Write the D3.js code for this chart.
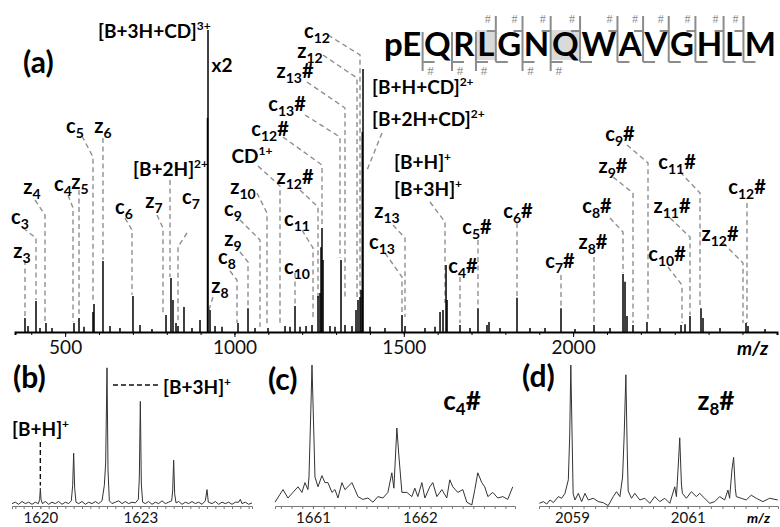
<!DOCTYPE html>
<html>
<head>
<meta charset="utf-8">
<script src="https://cdn.jsdelivr.net/npm/d3@7"></script>
<style>
  body { margin: 0; background: #fff; }
  svg { display: block; font-family: Lato, "Open Sans", sans-serif; }
</style>
</head>
<body>
<svg id="fig" width="780" height="527"></svg>
<script>
// ---- panel (a): centroid spectrum, [m/z, relative intensity]
const spectrumA = [
  [381.5,4.6],[390.4,2.0],[414.0,10.3],[425.8,1.3],[443.5,3.0],[461.3,1.3],[526.2,3.0],[541.0,4.6],
  [555.7,1.7],[582.3,6.6],[585.3,9.3],[611.8,23.5],[632.5,2.0],[662.0,1.3],[700.4,11.9],[721.1,2.3],
  [756.5,1.0],[797.9,5.6],[812.6,17.9],[818.5,10.6],[827.4,3.0],[833.3,2.0],[851.0,8.3],[874.6,1.3],
  [898.3,4.0],[920.4,70.9],[921.9,100],[927.8,7.3],[942.6,2.0],[963.2,1.7],[1010.5,3.0],[1040.0,7.9],
  [1060.7,1.3],[1099.1,1.3],[1149.3,2.0],[1164.0,1.7],[1178.8,8.6],[1193.5,1.7],[1211.3,2.0],[1229.0,2.3],
  [1246.7,11.9],[1252.6,12.9],[1255.6,28.1],[1258.5,34.4],[1261.5,23.8],[1282.1,2.0],[1296.9,1.7],
  [1314.6,23.8],[1326.4,2.3],[1347.1,2.0],[1358.9,7.3],[1364.8,10.6],[1370.7,11.6],[1373.7,13.9],
  [1377.5,66.2],[1379.6,87.1],[1400.3,1.7],[1444.5,1.3],[1494.7,5.6],[1503.6,2.0],[1562.6,1.3],
  [1592.2,1.7],[1607.0,6.6],[1615.8,7.3],[1624.7,22.2],[1627.7,10.6],[1666.0,2.3],[1695.5,1.3],
  [1719.1,7.9],[1745.7,2.3],[1751.6,3.3],[1784.1,1.3],[1834.3,11.3],[1872.7,1.3],[1917.0,1.3],
  [1964.2,7.9],[2005.6,1.0],[2061.7,2.3],[2109.0,1.3],[2147.3,19.2],[2153.2,16.6],[2159.1,5.3],
  [2176.8,2.3],[2218.1,3.3],[2256.6,1.3],[2318.6,2.3],[2330.4,2.6],[2345.1,5.3],[2377.6,7.9],
  [2383.5,4.6],[2433.7,1.3],[2510.5,3.0],[2516.4,2.0],[2566.6,1.0]
];
const aTickLabels = [500, 1000, 1500, 2000];

// ---- panel (a): fragment annotations
const ionLabels = ["c_3","z_3","z_4","c_4","z_5","c_5","z_6","c_6","z_7","[B+2H]^2+","c_7","z_8","c_8","z_9",
  "c_9","z_10","CD^1+","z_12#","c_11","c_10","c_12#","c_13#","z_13#","z_12","c_12","[B+H+CD]^2+",
  "[B+2H+CD]^2+","[B+H]^+","[B+3H]^+","z_13","c_13","c_4#","c_5#","c_6#","c_7#","z_8#","c_8#","z_9#",
  "c_9#","c_11#","z_11#","c_10#","z_12#","c_12#","[B+3H+CD]^3+"];
const ionMz = [414.0,381.5,440.6,523.3,541.0,582.3,611.8,697.5,789.0,809.7,833.3,924.8,1007.5,1040.0,
  1075.4,1096.1,1134.5,1246.7,1232.0,1178.8,1258.5,1311.7,1326.4,1361.9,1370.7,null,
  1391.4,null,1621.7,1503.6,1494.7,1666.0,1719.1,1834.3,1964.2,2061.7,2147.3,2176.8,
  2221.1,2374.7,2345.1,2321.5,2501.6,2513.4,null];
const ionTip = [10.6,5.0,3.0,3.3,5.0,9.6,23.8,12.3,6.3,18.2,3.0,7.3,3.0,7.9,
  1.7,1.7,3.0,10.6,4.0,8.3,35.1,24.5,10.6,10.6,12.3,null,
  53.6,null,9.6,5.0,5.6,3.0,8.3,11.6,8.3,3.0,19.5,3.0,
  4.0,8.3,5.6,3.0,3.0,3.0,null];

// label placement (px): [labelX, labelY, leaderStartX, leaderStartY, bendY]
const ionLayout = [
  [20,218,23,228,238],[22,252,null,260,null],[32,188,35,200,215],[63,185,68,195,208],
  [80,183,null,190,null],[75,127,82,136,157],[103,127,null,138,null],[124,208,125,218,230],
  [154,202,157,215,228],[133,170,null,180,null],[191,198,187,233,247],[220,287,213,297,null],
  [227,258,230,271,280],[233,240,240,252,262],[233,210,240,220,240],[243,188,257,193,213],
  [252,157,258,166,186],[295,178,300,190,207],[297,220,302,230,248],[297,268,null,273,null],
  [270,130,283,137,165],[287,105,305,115,137],[295,72,307,82,108],[310,52,323,55,78],
  [317,32,328,35,55],[372,88,null,null,null],[372,120,382,133,null],[394,163,null,null,null],
  [394,190,430,202,222],[387,212,393,225,238],[382,243,385,253,277],[463,267,null,277,null],
  [477,228,null,240,null],[518,212,null,223,null],[560,262,null,275,null],[593,243,null,257,null],
  [597,207,610,218,232],[613,167,613,177,193],[620,135,627,145,163],[677,163,680,172,193],
  [672,207,670,218,237],[667,255,668,267,285],[720,235,723,243,263],[747,188,null,203,null],
  [98,32,null,null,null]
];

// ---- sequence
const residues = ["pE","Q","R","L","G","N","Q","W","A","V","G","H","L","M"];
const hashTop = [4,5,6,7,8,9,10,11,12,13];
const hashBottom = [1,2,3,5,6];
const shaded = [3, 6];

// ---- zoomed isotope profiles, [m/z, relative intensity]
const bProfile = [
  [1619.15,1],[1619.25,2],[1619.35,0.5],[1619.45,2.5],[1619.55,1],[1619.65,2],[1619.75,0.5],[1619.85,2],
  [1619.94,1],[1619.98,4],[1620.0,12],[1620.02,4],[1620.06,1],[1620.15,2.5],[1620.25,0.5],[1620.35,2],
  [1620.45,1],[1620.55,2.5],[1620.65,0.5],[1620.75,2],[1620.85,1],[1620.93,3],[1620.97,14],[1621.0,37],
  [1621.03,12],[1621.07,2],[1621.15,1],[1621.25,2.5],[1621.35,0.5],[1621.45,2],[1621.55,1],[1621.65,2.5],
  [1621.75,1],[1621.85,3],[1621.92,14],[1621.96,30],[1622.0,98],[1622.03,25],[1622.07,3],[1622.15,1],
  [1622.25,2],[1622.35,3],[1622.45,1],[1622.55,2.5],[1622.65,1],[1622.75,2],[1622.85,1.5],[1622.94,4],
  [1622.97,20],[1623.0,74],[1623.03,15],[1623.07,2],[1623.15,1],[1623.25,2.5],[1623.35,0.5],[1623.45,2],
  [1623.55,1],[1623.65,3],[1623.75,1],[1623.85,2],[1623.94,3],[1623.97,10],[1624.0,32],[1624.03,8],
  [1624.07,1.5],[1624.15,2.5],[1624.25,0.5],[1624.35,2],[1624.45,1],[1624.55,2.5],[1624.65,1],[1624.75,2],
  [1624.85,0.5],[1624.95,3],[1625.0,11],[1625.04,2],[1625.15,1],[1625.25,2.5],[1625.35,0.5],[1625.45,2],
  [1625.55,1],[1625.65,2],[1625.75,0.5],[1625.85,2],[1625.95,2],[1626.0,4],[1626.05,1],[1626.15,2],
  [1626.25,0.5],[1626.35,1.5]
];
const cProfile = [
  [1660.645,2],[1660.720,11],[1660.766,5],[1660.813,9],[1660.860,13],[1660.897,9],[1660.925,16],
  [1660.953,11],[1660.963,20],[1660.981,70],[1660.991,100],[1661.005,60],[1661.019,20],[1661.047,13],
  [1661.084,21],[1661.112,16],[1661.140,16],[1661.178,9],[1661.206,11],[1661.234,5],[1661.271,16],
  [1661.299,11],[1661.327,13],[1661.364,16],[1661.393,11],[1661.421,6],[1661.467,4],[1661.514,5],
  [1661.561,2],[1661.607,6],[1661.654,5],[1661.701,9],[1661.738,23],[1661.757,12],[1661.785,55],
  [1661.804,35],[1661.832,9],[1661.879,9],[1661.925,6],[1661.953,12],[1661.981,6],[1662.019,16],
  [1662.047,5],[1662.093,13],[1662.121,16],[1662.159,6],[1662.206,11],[1662.252,5],[1662.280,18],
  [1662.308,13],[1662.355,9],[1662.402,11],[1662.439,2],[1662.486,0],[1662.514,11],[1662.542,23],
  [1662.579,16],[1662.607,13],[1662.636,6],[1662.682,9],[1662.729,5],[1662.776,6],[1662.822,4],
  [1662.869,13]
];
const dProfile = [
  [2058.436,1.2],[2058.505,2.4],[2058.563,0.7],[2058.621,3.6],[2058.678,1.7],[2058.764,6],[2058.822,4.8],
  [2058.879,8.3],[2058.937,18],[2058.961,50],[2058.98,100],[2059.006,40],[2059.02,8],[2059.052,3.6],
  [2059.109,8.3],[2059.167,2.4],[2059.224,8.3],[2059.282,3.6],[2059.368,4.8],[2059.454,2.4],[2059.540,1.7],
  [2059.626,-0.5],[2059.713,6],[2059.770,9.5],[2059.828,6],[2059.874,20],[2059.902,50],[2059.931,93],
  [2059.954,40],[2059.971,10],[2060.029,4.8],[2060.086,8.3],[2060.172,3.6],[2060.259,4.8],[2060.345,1.2],
  [2060.431,6],[2060.517,2.4],[2060.603,4.8],[2060.690,1.2],[2060.776,13],[2060.805,6],[2060.839,30],
  [2060.862,48],[2060.891,15],[2060.908,8.3],[2060.977,4.8],[2061.063,9.5],[2061.149,6],[2061.207,8.3],
  [2061.293,4.8],[2061.379,1.2],[2061.466,2.4],[2061.552,6],[2061.638,3.6],[2061.695,10.7],[2061.724,4.8],
  [2061.764,25],[2061.793,34],[2061.822,12],[2061.839,6],[2061.925,4.8],[2062.011,3.6],[2062.098,7],
  [2062.184,4.8],[2062.299,2.4],[2062.414,4.8],[2062.557,3.6]
];
const bTickLabels = [1620, 1623];
const cTickLabels = [1661, 1662];
const dTickLabels = [2059, 2061];

const svg = d3.select("#fig");
svg.append("rect").attr("width", 780).attr("height", 527).attr("fill", "#fff");

// rich text: "_n" subscript, "^n+" superscript
function richText(text, str, sub, sup) {
  const parts = str.split(/([_^][0-9]*\+?)/).filter(s => s.length);
  let shift = 0;
  parts.forEach(p => {
    const t = text.append("tspan");
    if (p[0] === "_") {
      t.text(p.slice(1)).attr("font-size", sub).attr("dy", 5 - shift);
      shift = 5;
    } else if (p[0] === "^") {
      t.text(p.slice(1)).attr("font-size", sup).attr("dy", -8 - shift);
      shift = -8;
    } else {
      t.text(p).attr("dy", -shift);
      shift = 0;
    }
  });
}

// ================= panel (a)
const xA = d3.scaleLinear().domain([352, 2602]).range([15, 777]);
const yA = d3.scaleLinear().domain([0, 100]).range([332, 30]);

// dashed leaders
const leaders = svg.append("g")
  .attr("fill", "none")
  .attr("stroke", "#8f8f8f")
  .attr("stroke-width", 1.4)
  .attr("stroke-dasharray", "5,3.5");
ionLayout.forEach((L, i) => {
  if (ionMz[i] === null) return;
  const [lx, ly, sx, sy, by] = L;
  const x = xA(ionMz[i]), yt = yA(ionTip[i]);
  let d;
  if (sx === null) d = `M${x},${sy}V${yt}`;
  else if (by === null) d = `M${sx},${sy}L${x},${yt}`;
  else d = `M${sx},${sy}L${x},${by}V${yt}`;
  leaders.append("path").attr("d", d);
});

// minor ticks + baseline
svg.append("g")
  .attr("transform", `translate(0,${yA(0)})`)
  .call(d3.axisBottom(xA).tickValues(d3.range(400, 2600, 100)).tickSize(3).tickFormat(""))
  .call(g => g.select(".domain").attr("stroke", "#000").attr("stroke-width", 2));
svg.append("g")
  .attr("transform", `translate(0,${yA(0)})`)
  .call(d3.axisBottom(xA).tickValues(aTickLabels).tickSize(5).tickPadding(4).tickFormat(d3.format("d")))
  .call(g => g.select(".domain").remove())
  .call(g => g.attr("font-family", null).attr("font-size", 19))
  .call(g => g.selectAll("text").attr("fill", "#111"));

// peaks
svg.append("g")
  .selectAll("line")
  .data(spectrumA)
  .join("line")
  .attr("x1", d => xA(d[0]))
  .attr("x2", d => xA(d[0]))
  .attr("y1", yA(0))
  .attr("y2", d => yA(d[1]))
  .attr("stroke", "#000")
  .attr("stroke-width", 1.5);

// ion labels
const labG = svg.append("g").attr("font-weight", 700).attr("fill", "#000");
ionLabels.forEach((s, i) => {
  const [lx, ly] = ionLayout[i];
  const bracket = s[0] === "[" || s[0] === "C";
  const t = labG.append("text")
    .attr("x", lx)
    .attr("y", ly + 6)
    .attr("font-size", bracket ? 19 : 20)
    .attr("text-anchor", s[0] === "[" ? "start" : "middle");
  richText(t, s, 14, 12);
});
labG.append("text").attr("x", 222).attr("y", 72).attr("font-size", 19)
  .attr("text-anchor", "middle").text("x2");

svg.append("text").attr("x", 23).attr("y", 73).attr("font-size", 30).attr("font-weight", 700).text("(a)");
svg.append("text").attr("x", 737).attr("y", 355).attr("font-size", 19).attr("font-weight", 700)
  .attr("font-style", "italic").text("m/z");

// ================= sequence
const seqG = svg.append("g");
const letters = seqG.selectAll("text.res")
  .data(residues)
  .join("text")
  .attr("class", "res")
  .attr("y", 56)
  .attr("font-size", 33)
  .attr("font-weight", 700)
  .text(d => d);
const widths = letters.nodes().map(n => n.getComputedTextLength());
const seqLeft = 384, seqRight = 776;
const gap = (seqRight - seqLeft - d3.sum(widths)) / (residues.length - 1);
const lefts = [];
let cursor = seqLeft;
widths.forEach(w => { lefts.push(cursor); cursor += w + gap; });
letters.attr("x", (d, i) => lefts[i]);
const seps = d3.range(1, residues.length).map(i => lefts[i] - gap / 2);

shaded.forEach(r => {
  seqG.insert("rect", "text")
    .attr("x", seps[r - 1])
    .attr("y", 30)
    .attr("width", seps[r] - seps[r - 1])
    .attr("height", 30)
    .attr("fill", "#dadada");
});

const brk = seqG.append("g").attr("stroke", "#8c8c8c").attr("stroke-width", 2).attr("fill", "none");
seps.forEach((x, k) => {
  const n = k + 1;
  const top = hashTop.includes(n), bot = hashBottom.includes(n);
  brk.append("path").attr("d", `M${x},${top ? 16 : 32}V${bot ? 71 : 62}M${x},62h12`);
  if (top) {
    brk.append("path").attr("d", `M${x},31h-9`);
    seqG.append("text").attr("x", x - 8).attr("y", 23).attr("text-anchor", "middle")
      .attr("font-size", 12).attr("fill", "#8c8c8c").attr("font-family", "Liberation Serif").text("#");
  }
  if (bot) {
    seqG.append("text").attr("x", x + 8).attr("y", 75).attr("text-anchor", "middle")
      .attr("font-size", 13).attr("fill", "#8c8c8c").attr("font-family", "Liberation Serif").text("#");
  }
});

// ================= zoomed panels
function zoomPanel(profile, domain, range, labels, minorStep) {
  const x = d3.scaleLinear().domain(domain).range(range);
  const y = d3.scaleLinear().domain([0, 100]).range([505, 365]);
  const minor = d3.range(Math.ceil(domain[0] / minorStep) * minorStep, domain[1], minorStep);
  svg.append("g")
    .attr("transform", "translate(0,506)")
    .call(d3.axisBottom(x).tickValues(minor).tickSize(3).tickFormat(""))
    .call(g => g.select(".domain").attr("stroke", "#777"))
    .call(g => g.selectAll(".tick line").attr("stroke", "#777"));
  svg.append("g")
    .attr("transform", "translate(0,506)")
    .call(d3.axisBottom(x).tickValues(labels).tickSize(3).tickPadding(3).tickFormat(d3.format("d")))
    .call(g => g.select(".domain").remove())
    .call(g => g.selectAll(".tick line").attr("stroke", "#777"))
    .call(g => g.attr("font-family", null).attr("font-size", 15))
    .call(g => g.selectAll("text").attr("fill", "#111"));
  svg.append("path")
    .datum(profile)
    .attr("fill", "none")
    .attr("stroke", "#333")
    .attr("stroke-width", 1)
    .attr("d", d3.line().x(d => x(d[0])).y(d => y(d[1])));
  return { x, y };
}

const pb = zoomPanel(bProfile, [1619.15, 1626.35], [12, 252], bTickLabels, 0.25);
zoomPanel(cProfile, [1660.645, 1662.89], [275, 515], cTickLabels, 0.1);
zoomPanel(dProfile, [2058.43, 2062.56], [539, 778], dTickLabels, 0.2);

// panel (b) annotations
const bAnn = svg.append("g").attr("stroke", "#111").attr("stroke-width", 1.4)
  .attr("stroke-dasharray", "5,3").attr("fill", "none");
bAnn.append("path").attr("d", `M${pb.x(1620)},442V${pb.y(14)}`);
bAnn.append("path").attr("d", `M${pb.x(1622) + 6},385H160`);

const bl = svg.append("g").attr("font-weight", 700).attr("font-size", 19);
richText(bl.append("text").attr("x", 12).attr("y", 436), "[B+H]^+", 13, 12);
richText(bl.append("text").attr("x", 163).attr("y", 394), "[B+3H]^+", 13, 12);

const big = svg.append("g").attr("font-weight", 700);
big.append("text").attr("x", 13).attr("y", 388).attr("font-size", 30).text("(b)");
big.append("text").attr("x", 268).attr("y", 390).attr("font-size", 30).text("(c)");
big.append("text").attr("x", 522).attr("y", 387).attr("font-size", 30).text("(d)");
richText(big.append("text").attr("x", 462).attr("y", 410).attr("text-anchor", "middle").attr("font-size", 26),
  "c_4#", 17, 16);
richText(big.append("text").attr("x", 716).attr("y", 410).attr("text-anchor", "middle").attr("font-size", 26),
  "z_8#", 17, 16);
svg.append("text").attr("x", 747).attr("y", 523).attr("font-size", 14).attr("font-weight", 700)
  .attr("font-style", "italic").text("m/z");
</script>
</body>
</html>
